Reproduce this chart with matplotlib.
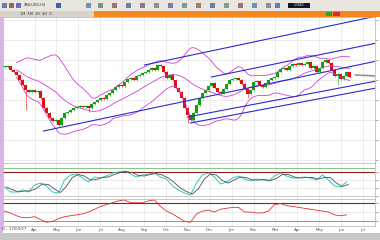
import numpy as np
import pandas as pd
import matplotlib
matplotlib.use("Agg")
import matplotlib.pyplot as plt
import matplotlib.patches as patches

# closing price of every bar
closes = [133, 134, 130, 128, 125, 120, 115, 110, 108, 110, 108, 109,
          102, 92, 87, 82, 79, 80, 75, 82, 87, 88, 90, 92,
          93, 94, 93, 94, 92, 96, 98, 100, 102, 101, 105, 107,
          110, 113, 115, 114, 118, 121, 122, 120, 124, 125, 127, 128,
          130, 132, 130, 135, 134, 128, 122, 125, 120, 112, 108, 102,
          92, 85, 80, 87, 95, 102, 107, 110, 114, 117, 112, 108,
          107, 111, 116, 120, 121, 122, 120, 116, 111, 106, 110, 118,
          119, 115, 113, 117, 120, 122, 123, 128, 131, 132, 130, 134,
          136, 135, 137, 135, 136, 138, 132, 134, 128, 132, 138, 140,
          137, 130, 124, 126, 121, 124, 128, 123]
# a few long wicks (bar index -> low)
long_lows = {7: 90, 18: 73, 28: 88, 61: 77, 81: 102, 111: 115}

# slow stochastic %K, one value every second bar
stoch_k = [42.5, 30, 30, 35, 30, 47.5, 52.5, 45, 30, 27.5, 60, 72.5,
           75, 65, 55, 67.5, 65, 70, 77.5, 80, 82.5, 75, 67.5, 72.5,
           75, 77.5, 67.5, 62.5, 45, 35, 27.5, 22.5, 52.5, 72.5, 77.5, 67.5,
           50, 55, 65, 70, 62.5, 57.5, 62.5, 60, 57.5, 70, 77.5, 70,
           65, 65, 67.5, 65, 60, 72.5, 60, 45, 42.5, 55]
# RSI, one value every second bar
rsi = [52, 48, 42, 38, 38, 40, 34, 28, 30, 36, 40, 42,
       44, 46, 50, 56, 62, 66, 70, 74, 76, 70, 70, 70,
       74, 76, 62, 52, 46, 38, 30, 28, 46, 52, 54, 50,
       56, 58, 60, 60, 50, 50, 48, 48, 52, 66, 68, 64,
       62, 60, 58, 56, 54, 52, 50, 44, 42, 44]

# hand drawn channel lines: (bar0, price0, bar1, price1)
channel_lines = [(46.7, 135, 125.7, 185),
                 (69, 123, 125.7, 158),
                 (13, 69, 125.7, 140),
                 (61, 83, 125.7, 120),
                 (62, 77, 125.7, 113)]

tick_labels = ["Apr", "May", "Jun", "Jul", "Aug", "Sep", "Oct", "Nov",
               "Dec", "Jan", "Feb", "Mar", "Apr", "May", "Jun", "Jul"]

W, H = 380, 240
fig = plt.figure(figsize=(W / 100, H / 100), dpi=100)
fig.patch.set_facecolor("white")


def px_axes(x0, y0, x1, y1):
    # axes placed by pixel box (top-left origin)
    return fig.add_axes([x0 / W, 1 - y1 / H, (x1 - x0) / W, (y1 - y0) / H])


def px_rect(x0, y0, x1, y1, color, **kw):
    fig.patches.append(patches.Rectangle((x0 / W, 1 - y1 / H), (x1 - x0) / W,
                                         (y1 - y0) / H, transform=fig.transFigure,
                                         facecolor=color, edgecolor="none", **kw))


# --- toolbar / window chrome ---
px_rect(0, 0, W, 11, "#e8e6df")
px_rect(0, 11, W, 17, "#d6d3cb")
px_rect(94, 11.5, W, 16.5, "#f4861f")
for x0, col in [(2, "#6a7ab0"), (9, "#a06060"), (16, "#6070b0"), (56, "#4060b0"),
                (86, "#7090c0"), (98, "#70a070"), (112, "#a07070"), (126, "#6080b0"),
                (140, "#a07090"), (154, "#909090"), (168, "#7080b0"), (182, "#70a0a0"),
                (196, "#a08060"), (210, "#6080b0"), (224, "#80a080"), (238, "#a07070"),
                (252, "#7090c0"), (266, "#909090"), (275, "#5080d0")]:
    px_rect(x0, 3, x0 + 5, 8, col)
px_rect(288, 3, 310, 8, "#101830")
px_rect(326, 12, 332, 16, "#30a030")
px_rect(333, 12, 340, 16, "#d03030")
fig.text(24 / W, 1 - 5.5 / H, "XAU/USD,H4", fontsize=2.5, va="center", color="#333")
fig.text(20 / W, 1 - 14 / H, "1M  5M  1H  4H  D", fontsize=2.5, va="center", color="#333")
fig.text(299 / W, 1 - 5.5 / H, "1.3062", fontsize=2.2, va="center", ha="center", color="white")
px_rect(0, 233, W, H, "#c8c8c8")
px_rect(0, 17, 2.5, 233, "#d9b3e6")

x = np.arange(len(closes))
xlim = (-0.5, 123.5)
grid_c = "#e4e4e4"
ticks = np.arange(10, 124, 7.3)[:len(tick_labels)]


def style(ax):
    ax.set_xlim(*xlim)
    ax.set_xticks(ticks)
    ax.grid(True, color=grid_c, linewidth=0.5)
    ax.set_axisbelow(True)
    ax.yaxis.tick_right()
    ax.tick_params(axis="y", length=2, width=0.4, labelright=False, colors="#666")
    ax.tick_params(axis="x", length=0, labelbottom=False)
    for s in ax.spines.values():
        s.set_color("#b0b0b0")
        s.set_linewidth(0.5)


# --- price panel ---
ax = px_axes(3, 17, 375, 163)
style(ax)
ax.set_ylim(37, 183)
ax.set_yticks(np.arange(40, 181, 20))

c = pd.Series(closes, dtype=float)
o = c.shift(1).fillna(c.iloc[0])
mid = c.rolling(18, min_periods=5).mean()
sd = c.rolling(18, min_periods=5).std()
for band in (mid, mid + 2 * sd, mid - 2 * sd):
    ax.plot(x, band, color="#d040d0", lw=0.6)

for x0, p0, x1, p1 in channel_lines:
    ax.plot([x0, x1], [p0, p1], color="#2a2ad0", lw=0.8)
ax.plot([117, 124], [125, 124], color="#9090a0", lw=1.2)

for i in range(len(c)):
    up = c[i] >= o[i]
    col = "#10a010" if up else "#e01010"
    lo = min(o[i], c[i]) - 1.2
    hi = max(o[i], c[i]) + 1.2
    lo = min(lo, long_lows.get(i, lo))
    ax.vlines(i, lo, hi, color=col, lw=0.4)
    ax.bar(i, max(abs(c[i] - o[i]), 0.8), bottom=min(o[i], c[i]), width=0.7,
           color=col, linewidth=0)

# --- stochastic panel ---
ax2 = px_axes(3, 163, 375, 199)
style(ax2)
ax2.set_ylim(12.5, 102.5)
ax2.set_yticks([20, 40, 60, 80])
xs = np.arange(0, 2 * len(stoch_k), 2)
k = pd.Series(stoch_k)
d = k.rolling(2, min_periods=1).mean()
ax2.axhline(90, color="#70c070", lw=0.6)
ax2.axhline(80, color="#902020", lw=0.8)
ax2.axhline(20, color="#c0c0c0", lw=0.5)
ax2.plot(xs, k, color="#30c8c0", lw=0.7)
ax2.plot(xs + 0.6, d, color="#505050", lw=0.6)

# --- RSI panel ---
ax3 = px_axes(3, 199, 375, 226)
style(ax3)
ax3.set_ylim(20, 78)
ax3.set_yticks([30, 50, 70])
ax3.axhline(70, color="#902020", lw=0.8)
ax3.axhline(30, color="#50b050", lw=0.6)
ax3.plot(np.arange(0, 2 * len(rsi), 2), rsi, color="#e03030", lw=0.6)
ax3.tick_params(axis="x", labelbottom=True, labelsize=2.8, pad=1.5, colors="#555")
ax3.set_xticklabels(tick_labels)
fig.text(2 / W, 1 - 229.5 / H, "D - 17/03/27", fontsize=2.8, va="center", color="#333")

fig.savefig("out.png", dpi=100)
